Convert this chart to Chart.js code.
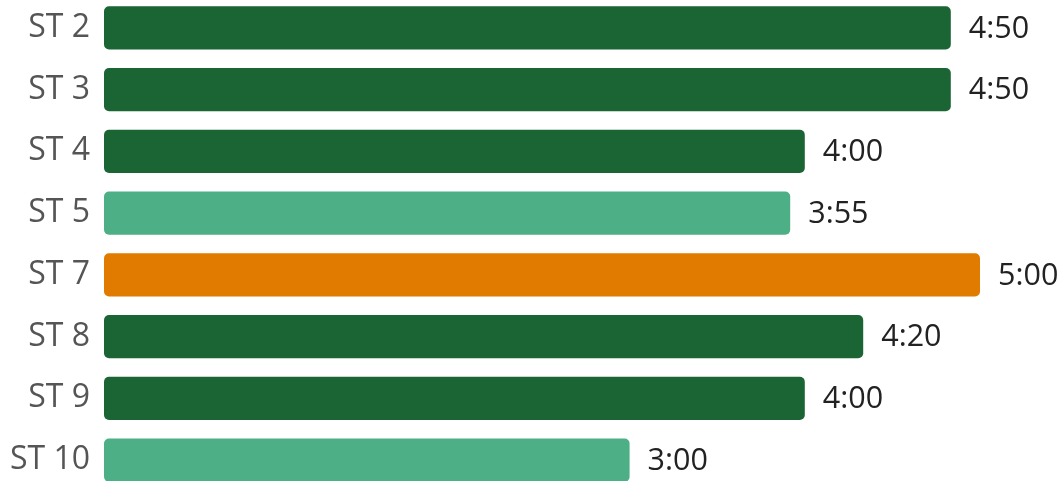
<!DOCTYPE html>
<html><head><meta charset="utf-8">
<script src="https://cdn.jsdelivr.net/npm/chart.js@4/dist/chart.umd.min.js"></script>
<style>
html,body{margin:0;padding:0;background:#fff;overflow:hidden;width:1063px;height:481px;}
#wrap{position:absolute;left:0;top:-3px;width:1063px;height:494px;}
</style></head><body>
<div id="wrap"><canvas id="c"></canvas></div>
<script>
const categories = ["ST 2","ST 3","ST 4","ST 5","ST 7","ST 8","ST 9","ST 10"];
const durationSeconds = [290,290,240,235,300,260,240,180];
const barColors = ["#1b6535","#1b6535","#1b6535","#4caf85","#e07b00","#1b6535","#1b6535","#4caf85"];

function fmt(s){const m=Math.floor(s/60);const r=s%60;return m+":"+String(r).padStart(2,"0");}

const labelPlugin = {
  id:"endLabels",
  afterDatasetsDraw(chart){
    const ctx=chart.ctx;const meta=chart.getDatasetMeta(0);
    ctx.save();
    ctx.font='30.5px "Open Sans"';ctx.fillStyle="#222";ctx.textAlign="left";ctx.textBaseline="middle";
    meta.data.forEach((bar,i)=>{ctx.fillText(fmt(durationSeconds[i]),bar.x+18,bar.y+1);});
    ctx.restore();
  }
};

new Chart(document.getElementById("c"),{
  type:"bar",
  data:{labels:categories,datasets:[{data:durationSeconds,backgroundColor:barColors,borderRadius:5,borderSkipped:false,barPercentage:0.7,categoryPercentage:1}]},
  options:{
    indexAxis:"y",responsive:true,maintainAspectRatio:false,animation:false,
    layout:{padding:{left:0,right:83,top:0,bottom:0}},
    plugins:{legend:{display:false},tooltip:{enabled:false}},
    scales:{
      x:{display:false,min:0,max:300},
      y:{grid:{display:false},border:{display:false},
         ticks:{color:"#555",font:{family:"Open Sans",size:32},padding:6},
         afterFit(s){s.width=104;s.paddingTop=0;s.paddingBottom=0;}}
    }
  },
  plugins:[labelPlugin]
});
</script></body></html>
